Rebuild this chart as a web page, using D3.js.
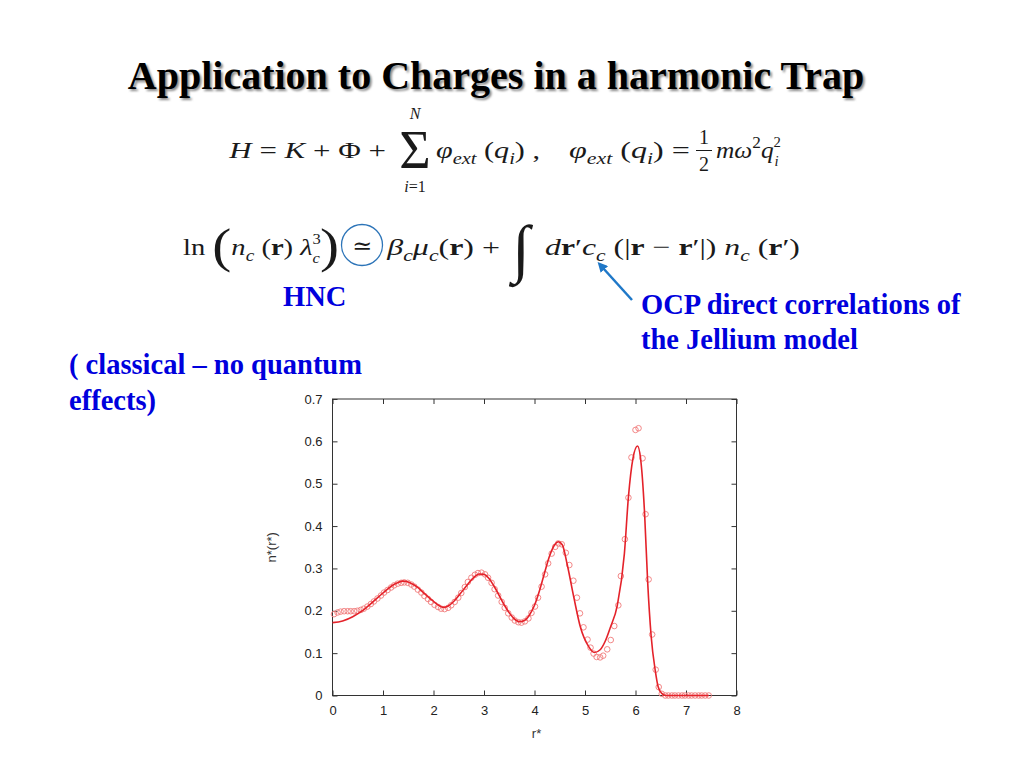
<!DOCTYPE html>
<html><head><meta charset="utf-8">
<script src="https://cdn.jsdelivr.net/npm/d3@7"></script>
<style>body{margin:0;background:#fff} svg{display:block}</style>
</head><body>
<svg id="c" width="1024" height="768"></svg>
<script>
// ---------- data ----------
const lineX = [0, 0.2, 0.4, 0.6, 0.8, 1.0, 1.2, 1.3, 1.4, 1.5, 1.6, 1.7, 1.8, 2.0, 2.1, 2.2, 2.3, 2.4, 2.6, 2.8, 2.9, 3.0, 3.1, 3.2, 3.4, 3.5, 3.6, 3.7, 3.8, 3.9, 4.0, 4.1, 4.2, 4.3, 4.4, 4.47, 4.55, 4.65, 4.78, 4.91, 5.07, 5.185, 5.3, 5.4, 5.5, 5.64, 5.78, 5.86, 5.95, 6.04, 6.1, 6.18, 6.24, 6.31, 6.39, 6.45, 6.52, 6.6, 7.0, 7.45];
const lineY = [0.172, 0.176, 0.186, 0.201, 0.221, 0.242, 0.261, 0.267, 0.270, 0.268, 0.262, 0.254, 0.243, 0.222, 0.213, 0.208, 0.212, 0.222, 0.251, 0.279, 0.287, 0.286, 0.276, 0.258, 0.214, 0.195, 0.181, 0.174, 0.177, 0.190, 0.213, 0.248, 0.290, 0.330, 0.356, 0.363, 0.356, 0.308, 0.231, 0.161, 0.116, 0.1015, 0.108, 0.128, 0.160, 0.213, 0.335, 0.469, 0.560, 0.589, 0.560, 0.430, 0.270, 0.140, 0.060, 0.020, 0.005, 0, 0, 0];

const circX = [0.03,0.10,0.16,0.23,0.30,0.36,0.43,0.49,0.56,0.62,0.69,0.76,0.82,0.89,0.96,1.02,1.09,1.16,1.22,1.29,1.36,1.42,1.49,1.56,1.62,1.69,1.76,1.82,1.89,1.95,2.02,2.09,2.15,2.22,2.29,2.35,2.42,2.49,2.55,2.62,2.68,2.75,2.82,2.88,2.95,3.02,3.08,3.15,3.21,3.28,3.35,3.41,3.48,3.55,3.61,3.68,3.74,3.81,3.88,3.94,4.01,4.07,4.14,4.21,4.27,4.34,4.41,4.47,4.54,4.62,4.69,4.77,4.84,4.90,4.97,5.05,5.11,5.17,5.23,5.30,5.36,5.44,5.51,5.58,5.66,5.71,5.79,5.86,5.92,6.00,6.06,6.14,6.20,6.26,6.33,6.40,6.46,6.52,6.59,6.65,6.72,6.78,6.85,6.92,6.98,7.05,7.11,7.18,7.25,7.31,7.38,7.45];
const circY = [0.192,0.196,0.198,0.199,0.199,0.199,0.199,0.200,0.202,0.205,0.210,0.216,0.222,0.229,0.236,0.243,0.249,0.255,0.260,0.264,0.266,0.267,0.266,0.262,0.257,0.250,0.243,0.235,0.228,0.221,0.214,0.209,0.205,0.204,0.207,0.213,0.221,0.231,0.242,0.256,0.268,0.278,0.285,0.289,0.290,0.286,0.278,0.266,0.251,0.236,0.221,0.207,0.194,0.184,0.177,0.173,0.172,0.175,0.182,0.195,0.210,0.231,0.257,0.286,0.312,0.335,0.351,0.359,0.357,0.337,0.308,0.271,0.231,0.194,0.161,0.132,0.113,0.099,0.091,0.090,0.094,0.109,0.131,0.164,0.213,0.282,0.369,0.467,0.562,0.627,0.631,0.560,0.428,0.274,0.144,0.061,0.020,0.004,0,0,0,0,0,0,0,0,0,0,0,0,0,0];

const xTicks = [0,1,2,3,4,5,6,7,8];
const yTicks = [0,0.1,0.2,0.3,0.4,0.5,0.6,0.7];
const yTickLabels = ["0","0.1","0.2","0.3","0.4","0.5","0.6","0.7"];
const xLabel = "r*", yLabel = "n*(r*)";

const title = "Application to Charges in a harmonic Trap";
const hncText = "HNC";
const ocpLines = ["OCP direct correlations of", "the Jellium model"];
const classicalLines = ["( classical \u2013 no quantum", "effects)"];

// ---------- setup ----------
const svg = d3.select("#c");
const SERIF = "'Liberation Serif','Times New Roman',serif";
const MATH = "'Liberation Serif','DejaVu Serif',serif";
const SANS = "'Liberation Sans',Arial,sans-serif";
const BLUE = "#0000dd";
const INK = "#1a1a1a";

const defs = svg.append("defs");
defs.append("filter").attr("id","blur").append("feGaussianBlur").attr("stdDeviation",1.2);
defs.append("marker").attr("id","ah").attr("viewBox","0 0 10 10").attr("refX",2).attr("refY",5)
  .attr("markerWidth",4).attr("markerHeight",4).attr("orient","auto-start-reverse")
  .append("path").attr("d","M0,0 L10,5 L0,10 z").attr("fill","#1f78c8");

// title with shadow
svg.append("text").attr("x",498).attr("y",91).attr("text-anchor","middle")
  .attr("font-family",SERIF).attr("font-weight","bold").attr("font-size",40)
  .attr("fill","#888").attr("filter","url(#blur)").text(title);
svg.append("text").attr("x",496).attr("y",89).attr("text-anchor","middle")
  .attr("font-family",SERIF).attr("font-weight","bold").attr("font-size",40)
  .attr("fill","#000").text(title);

// ---------- math helper ----------
function mathRow(segs, size, x0, x1, y) {
  const t = svg.append("text").attr("x",0).attr("y",y).attr("font-family",MATH)
    .attr("font-size",size).attr("fill",INK);
  let off = 0;
  segs.forEach(s => {
    let target = s.shift || 0, fs = s.fs || size;
    if (s.sub) { target = 0.25*size; fs = 0.68*size; }
    if (s.sup) { target = -0.40*size; fs = 0.68*size; }
    if (s.ssub) { target = 0.32*size; fs = 0.58*size; }
    if (s.ssup) { target = -0.46*size; fs = 0.58*size; }
    const ts = t.append("tspan").attr("dy", target - off).attr("font-size", fs)
      .attr("font-style", s.i ? "italic" : "normal").attr("font-weight", s.b ? "bold" : "normal").text(s.t);
    if (s.dx) ts.attr("dx", s.dx);
    off = target;
  });
  const bb = t.node().getBBox();
  const sx = (x1 - x0) / bb.width;
  t.attr("transform", `translate(${x0 - bb.x * sx},0) scale(${sx},1)`);
  return t;
}
function sym(txt, x, y, fs, italic) {
  return svg.append("text").attr("x",x).attr("y",y).attr("text-anchor","middle").attr("font-family",MATH)
    .attr("font-size",fs).attr("font-style", italic ? "italic" : "normal").attr("fill",INK).text(txt);
}

// Equation 1
mathRow([{t:"H",i:1},{t:"  =  "},{t:"K",i:1},{t:"  +  \u03A6  +"}], 24, 228, 386, 158);
sym("\u03A3", 415, 168, 54);
sym("N", 415, 119, 16, true);
svg.append("text").attr("x",415).attr("y",192).attr("text-anchor","middle").attr("font-family",MATH)
  .attr("font-size",16).attr("fill",INK)
  .call(t => { t.append("tspan").attr("font-style","italic").text("i"); t.append("tspan").text("=1"); });
mathRow([{t:"\u03C6",i:1},{t:"ext",i:1,sub:1},{t:" ("},{t:"q",i:1},{t:"i",i:1,sub:1},{t:") ,"}], 24, 436, 540, 158);
mathRow([{t:"\u03C6",i:1},{t:"ext",i:1,sub:1},{t:" ("},{t:"q",i:1},{t:"i",i:1,sub:1},{t:")  ="}], 24, 569, 690, 158);
sym("1", 704, 144, 20);
svg.append("line").attr("x1",696).attr("x2",712).attr("y1",150.5).attr("y2",150.5)
  .attr("stroke",INK).attr("stroke-width",1);
sym("2", 704, 171, 20);
mathRow([{t:"m",i:1},{t:"\u03C9",i:1},{t:"2",sup:1},{t:"q",i:1},{t:"2",ssup:1},{t:"i",i:1,ssub:1,dx:-6}], 24, 716, 781, 158);

// Equation 2
mathRow([{t:"ln "},{t:"(",fs:48,shift:7},{t:"n",i:1},{t:"c",i:1,sub:1},{t:" ("},{t:"r",b:1},{t:") "},
  {t:"\u03BB",i:1},{t:"3",ssup:1},{t:"c",i:1,ssub:1,dx:-7},{t:")",fs:48,shift:7}], 24, 183, 339, 255);
sym("\u2243", 362, 254, 24);
svg.append("ellipse").attr("cx",362).attr("cy",245).attr("rx",20.5).attr("ry",20.5)
  .attr("fill","none").attr("stroke","#2c74b8").attr("stroke-width",1.3);
mathRow([{t:"\u03B2",i:1},{t:"c",i:1,sub:1},{t:"\u03BC",i:1},{t:"c",i:1,sub:1},{t:"("},{t:"r",b:1},{t:")  +"}], 24, 386, 500, 255);
sym("\u222B", 521, 270, 64, true);
mathRow([{t:"d",i:1},{t:"r",b:1},{t:"\u2032"},{t:"c",i:1},{t:"c",i:1,sub:1},
  {t:" (|"},{t:"r",b:1},{t:" \u2212 "},{t:"r",b:1},{t:"\u2032|) "},{t:"n",i:1},{t:"c",i:1,sub:1},
  {t:" ("},{t:"r",b:1},{t:"\u2032)"}], 24, 545, 800, 255);

// arrow
svg.append("line").attr("x1",632).attr("y1",300).attr("x2",603).attr("y2",268)
  .attr("stroke","#1f78c8").attr("stroke-width",2.5).attr("marker-end","url(#ah)");

// blue annotations
function blue(txt, x, y, fs) {
  svg.append("text").attr("x",x).attr("y",y).attr("font-family",SERIF).attr("font-weight","bold")
    .attr("font-size",fs).attr("fill",BLUE).text(txt);
}
blue(hncText, 283, 306, 28.5);
blue(ocpLines[0], 641, 314, 28.5);
blue(ocpLines[1], 641, 349, 28.5);
blue(classicalLines[0], 69, 374, 28.5);
blue(classicalLines[1], 69, 410, 28.5);

// ---------- plot ----------
const x = d3.scaleLinear().domain([0,8]).range([332.5,736.5]);
const y = d3.scaleLinear().domain([0,0.7]).range([695.5,399]);
const g = svg.append("g");
const axStyle = sel => {
  sel.selectAll("path").remove();
  sel.selectAll("line").attr("stroke","#333");
  sel.selectAll("text").attr("font-family",SANS).attr("font-size",13).attr("fill","#222");
};
g.append("g").attr("transform",`translate(0,${y(0)})`)
  .call(d3.axisBottom(x).tickValues(xTicks).tickSize(-5).tickPadding(10).tickFormat(d3.format("d"))).call(axStyle);
g.append("g").attr("transform",`translate(0,${y(0.7)})`)
  .call(d3.axisTop(x).tickValues(xTicks).tickSize(-5).tickFormat("")).call(axStyle);
g.append("g").attr("transform",`translate(${x(0)},0)`)
  .call(d3.axisLeft(y).tickValues(yTicks).tickSize(-5).tickPadding(10).tickFormat((d,i)=>yTickLabels[i])).call(axStyle);
g.append("g").attr("transform",`translate(${x(8)},0)`)
  .call(d3.axisRight(y).tickValues(yTicks).tickSize(-5).tickFormat("")).call(axStyle);
g.append("rect").attr("x",x(0)).attr("y",y(0.7)).attr("width",x(8)-x(0)).attr("height",y(0)-y(0.7))
  .attr("fill","none").attr("stroke","#333").attr("stroke-width",1);

svg.append("text").attr("x",(x(0)+x(8))/2+2).attr("y",738).attr("text-anchor","middle")
  .attr("font-family",SANS).attr("font-size",13).attr("fill","#333").text(xLabel);
svg.append("text").attr("transform",`translate(276,${(y(0)+y(0.7))/2}) rotate(-90)`).attr("text-anchor","middle")
  .attr("font-family",SANS).attr("font-size",13).attr("fill","#333").text(yLabel);

// circles
g.append("g").selectAll("circle").data(circX.map((v,i)=>[v,circY[i]])).join("circle")
  .attr("cx",d=>x(d[0])).attr("cy",d=>y(d[1])).attr("r",2.8)
  .attr("fill","none").attr("stroke","#f07a7a").attr("stroke-width",0.9);

// line
g.append("path").datum(lineX.map((v,i)=>[v,lineY[i]]))
  .attr("d", d3.line().x(d=>x(d[0])).y(d=>y(d[1])).curve(d3.curveMonotoneX))
  .attr("fill","none").attr("stroke","#e4222a").attr("stroke-width",1.6);
</script>
</body></html>
